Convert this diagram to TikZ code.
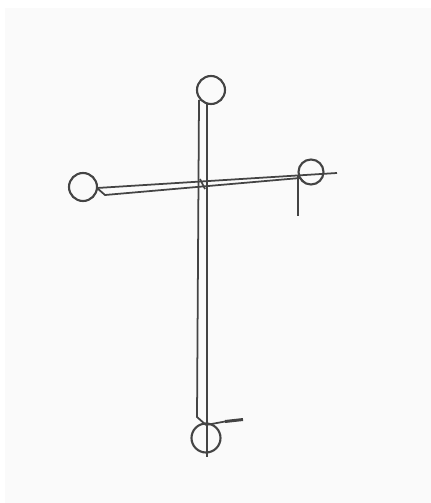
\documentclass[tikz,border=0pt]{standalone}
\usetikzlibrary{positioning}
\definecolor{panelgrey}{HTML}{FAFAFA}
\definecolor{inkgrey}{HTML}{444444}
\tikzstyle{joint} = [circle, draw=inkgrey, line width=1.2pt, inner sep=0pt]
\tikzstyle{bar} = [draw=inkgrey, line width=1pt]
\tikzstyle{stub} = [draw=inkgrey, line width=1.7pt]

\begin{document}
\begin{tikzpicture}[x=0.02cm, y=-0.02cm]

% Margins
\useasboundingbox (0,0) rectangle (431,503);
\fill [panelgrey] (5,8) rectangle (431,503);

% Nodes
\node (top) [joint, minimum size=0.56cm] at (211,90) {};
\node (left) [joint, minimum size=0.56cm] at (83,187) {};
\node (right) [joint, minimum size=0.5cm] at (311,172) {};
\node (bottom) [joint, minimum size=0.58cm] at (206,438) {};

% Bar ends
\coordinate (topl) at (199,100);
\coordinate (topr) at (207,103);
\coordinate (footl) at (197,417);
\coordinate (foot) at (206,425);
\coordinate (tail) at (207,457);
\coordinate (lefta) at (97,188);
\coordinate (leftb) at (105,195);
\coordinate (tip) at (337,173);
\coordinate (hooka) at (300,178);
\coordinate (hookb) at (304,182);
\coordinate (droptop) at (298,175);
\coordinate (dropmid) at (298,200);
\coordinate (dropend) at (298,216);
\coordinate (flagmid) at (225,421.5);
\coordinate (flagend) at (243,419.5);
\coordinate (notcha) at (200,179);
\coordinate (notchb) at (205,189);

% Upright
\draw [bar] (topl) -- (footl) -- (foot);
\draw [bar] (topr) -- (tail);

% Crossbar
\draw [bar] (lefta) -- (tip);
\draw [bar] (lefta) -- (leftb) -- (hooka) -- (hookb);
\draw [bar] (notcha) -- (notchb);

% Stubs
\draw [bar] (droptop) -- (dropmid);
\draw [stub] (dropmid) -- (dropend);
\draw [bar] (foot) -- (flagmid);
\draw [stub] (flagmid) -- (flagend);

\end{tikzpicture}
\end{document}
